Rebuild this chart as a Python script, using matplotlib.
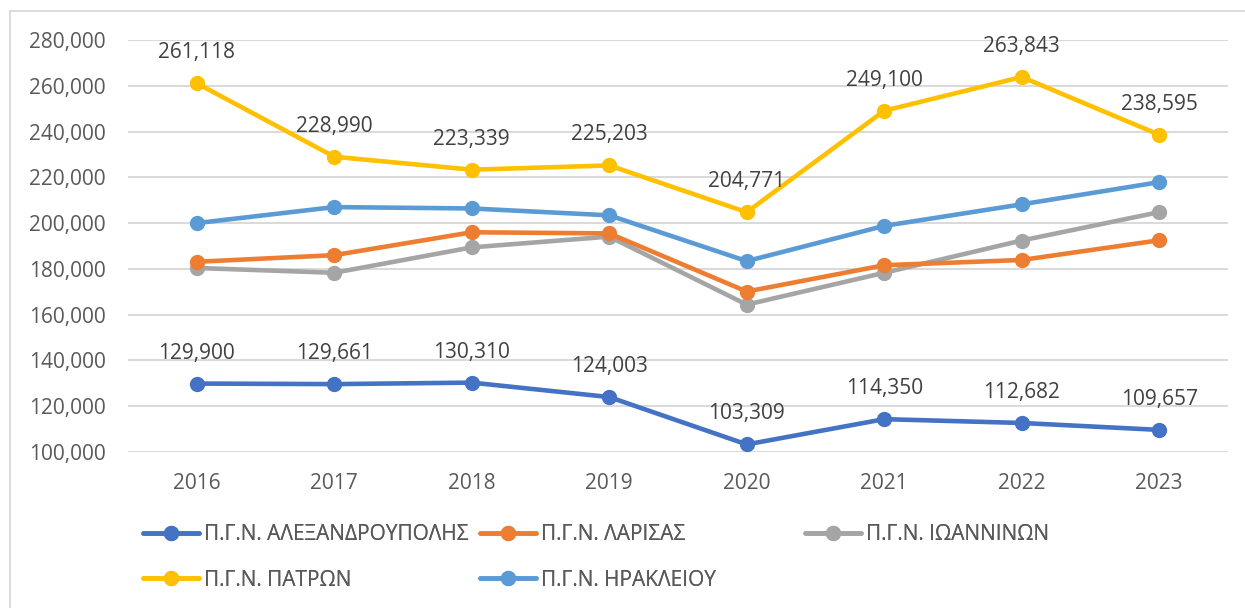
import matplotlib
matplotlib.use("Agg")
import matplotlib.pyplot as plt
from matplotlib.patches import Rectangle
from matplotlib.ticker import FuncFormatter, MultipleLocator

plt.rcParams['font.family'] = ['Open Sans', 'Noto Sans', 'DejaVu Sans']

years = ['2016', '2017', '2018', '2019', '2020', '2021', '2022', '2023']
alexandroupolis = [129900, 129661, 130310, 124003, 103309, 114350, 112682, 109657]
larisa = [183100, 186000, 196000, 195500, 170100, 181600, 183900, 192500]
ioannina = [180400, 178300, 189400, 194100, 164400, 178300, 192400, 204800]
patra = [261118, 228990, 223339, 225203, 204771, 249100, 263843, 238595]
heraklion = [200000, 207000, 206400, 203400, 183400, 198800, 208200, 217900]

names = ['Π.Γ.Ν. ΑΛΕΞΑΝΔΡΟΥΠΟΛΗΣ', 'Π.Γ.Ν. ΛΑΡΙΣΑΣ', 'Π.Γ.Ν. ΙΩΑΝΝΙΝΩΝ',
         'Π.Γ.Ν. ΠΑΤΡΩΝ', 'Π.Γ.Ν. ΗΡΑΚΛΕΙΟΥ']
series = [alexandroupolis, larisa, ioannina, patra, heraklion]
colors = ['#4472C4', '#ED7D31', '#A5A5A5', '#FFC000', '#5B9BD5']
labelled = [True, False, False, True, False]

W, H = 1245, 608
fig = plt.figure(figsize=(W / 100, H / 100), dpi=100)
ax = fig.add_axes([128 / W, 1 - 452 / H, (1228 - 128) / W, (452 - 40) / H])

fig.patches.append(Rectangle((10 / W, -0.1), 1.2, 1 - 11 / H + 0.1,
                             transform=fig.transFigure, fill=False,
                             edgecolor='#D9D9D9', linewidth=1.3, zorder=0))

x = list(range(len(years)))
handles = []
order = [3, 4, 1, 2, 0]  # draw order (z)
for i, (vals, c, nm) in enumerate(zip(series, colors, names)):
    h, = ax.plot(x, vals, color=c, linewidth=3.3, marker='o', markersize=10,
                 label=nm, zorder=3 + order[i], solid_capstyle='round')
    handles.append(h)
    if labelled[i]:
        for xi, v in zip(x, vals):
            ax.annotate(f'{v:,}', (xi, v), xytext=(0, 22), textcoords='offset points',
                        ha='center', va='center', fontsize=15, color='#404040',
                        zorder=10)

ax.set_xlim(-0.5, len(years) - 0.5)
ax.set_ylim(100000, 280000)
ax.yaxis.set_major_locator(MultipleLocator(20000))
ax.yaxis.set_major_formatter(FuncFormatter(lambda v, p: f'{int(v):,}'))
ax.set_xticks(x)
ax.set_xticklabels(years)
ax.grid(axis='y', color='#D9D9D9', linewidth=1.4, zorder=0)
ax.set_axisbelow(True)
for s in ax.spines.values():
    s.set_visible(False)
ax.tick_params(axis='both', length=0, labelsize=15, colors='#595959')
ax.tick_params(axis='y', pad=16)
ax.tick_params(axis='x', pad=15)

pos = [(143, 535), (480, 535), (805, 535), (143, 580), (480, 580)]
for h, (px, py) in zip(handles, pos):
    leg = fig.legend(handles=[h], loc='center left',
                     bbox_to_anchor=(px / W, 1 - py / H), frameon=False,
                     fontsize=15, handlelength=2.7, handletextpad=0.25,
                     borderpad=0, borderaxespad=0, labelcolor='#595959')
    fig.add_artist(leg)

fig.savefig('out.png', dpi=100)
